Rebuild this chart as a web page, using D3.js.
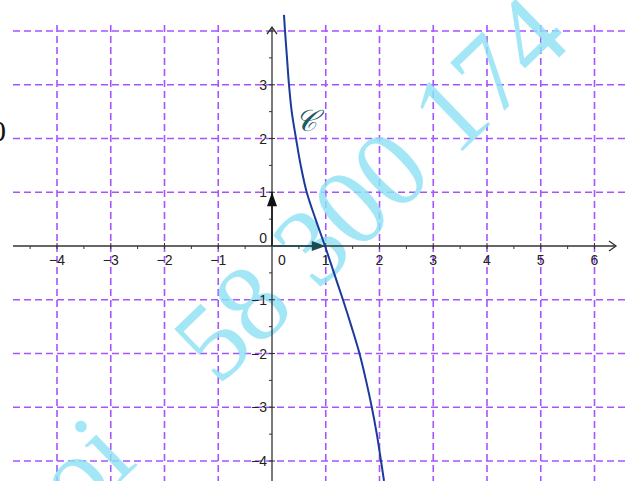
<!DOCTYPE html>
<html><head><meta charset="utf-8">
<script src="https://cdn.jsdelivr.net/npm/d3@7"></script>
<style>body{margin:0;background:#fff}svg{display:block}</style>
</head><body>
<script>
// ---- data ----
const xTicks = [-4, -3, -2, -1, 1, 2, 3, 4, 5, 6];
const yTicks = [4, 3, 2, 1, -1, -2, -3, -4];
const xLabels = ["\u22124", "\u22123", "\u22122", "\u22121", "1", "2", "3", "4", "5", "6"];
const yLabels = ["3", "2", "1", "\u22121", "\u22122", "\u22123", "\u22124"];
const yLabelVals = [3, 2, 1, -1, -2, -3, -4];
const curveX = [0.223, 0.242, 0.279, 0.316, 0.367, 0.447, 0.534, 0.646, 0.81, 0.986, 1.153, 1.32, 1.479, 1.628, 1.749, 1.857, 1.950, 2.028, 2.084];
const curveY = [4.30, 4.0, 3.5, 3.0, 2.5, 2.0, 1.5, 1.0, 0.5, 0.0, -0.5, -1.0, -1.5, -2.0, -2.5, -3.0, -3.5, -4.0, -4.37];
const watermarkA = "G\u1ecdi";
const watermarkB = "58 300 174";

const W = 625, H = 481;
const svg = d3.select("body").append("svg").attr("width", W).attr("height", H);
const U = 53.75;
const x = d3.scaleLinear().domain([0, 1]).range([272, 272 + U]);
const y = d3.scaleLinear().domain([0, 1]).range([246, 246 - U]);

const gridColor = "#a654ff";
const dash = "7,4";
svg.append("g").selectAll("line").data(yTicks).join("line")
  .attr("x1", 13).attr("x2", W).attr("y1", d => y(d)).attr("y2", d => y(d))
  .attr("stroke", gridColor).attr("stroke-width", 1.6).attr("stroke-dasharray", dash);
svg.append("g").selectAll("line").data(xTicks).join("line")
  .attr("y1", 25).attr("y2", H).attr("x1", d => x(d)).attr("x2", d => x(d))
  .attr("stroke", gridColor).attr("stroke-width", 1.6).attr("stroke-dasharray", dash);

// watermark
const wm = svg.append("g").attr("transform", "translate(218,387) rotate(-44)")
  .attr("font-family", "Liberation Serif").attr("font-size", 110)
  .attr("fill", "#8fe2f4").attr("fill-opacity", 0.82);
wm.append("text").attr("x", 0).attr("y", 0).attr("text-anchor", "start").text(watermarkB);
wm.append("text").attr("x", -110).attr("y", 0).attr("text-anchor", "end").text(watermarkA);

// axes
const axisColor = "#333";
svg.append("line").attr("x1", 13).attr("x2", 616).attr("y1", y(0)).attr("y2", y(0))
  .attr("stroke", axisColor).attr("stroke-width", 1.3);
svg.append("path").attr("d", `M${609},${y(0)-5}L${616},${y(0)}L${609},${y(0)+5}`)
  .attr("fill", "none").attr("stroke", axisColor).attr("stroke-width", 1.3);
svg.append("line").attr("x1", x(0)).attr("x2", x(0)).attr("y1", H).attr("y2", 27)
  .attr("stroke", axisColor).attr("stroke-width", 1.3);
svg.append("path").attr("d", `M${x(0)-5},${34}L${x(0)},${27}L${x(0)+5},${34}`)
  .attr("fill", "none").attr("stroke", axisColor).attr("stroke-width", 1.3);

// ticks (major and half-unit minor)
const xt = d3.range(-4.5, 6.01, 0.5).filter(d => d !== 0);
svg.append("g").selectAll("line").data(xt).join("line")
  .attr("x1", d => x(d)).attr("x2", d => x(d))
  .attr("y1", d => y(0) - (Number.isInteger(d) ? 3 : 0)).attr("y2", d => y(0) + 3)
  .attr("stroke", axisColor).attr("stroke-width", 1);
const yt = d3.range(-4.5, 4.01, 0.5).filter(d => d !== 0);
svg.append("g").selectAll("line").data(yt).join("line")
  .attr("y1", d => y(d)).attr("y2", d => y(d))
  .attr("x1", d => x(0) - 3).attr("x2", d => x(0) + (Number.isInteger(d) ? 3 : 0))
  .attr("stroke", axisColor).attr("stroke-width", 1);

// tick labels
const lf = "Liberation Sans";
svg.append("g").selectAll("text").data(xTicks).join("text")
  .attr("x", d => x(d)).attr("y", y(0) + 19)
  .attr("text-anchor", "middle").attr("font-family", lf).attr("font-size", 14).attr("fill", "#222")
  .text((d, i) => xLabels[i]);
svg.append("text").attr("x", x(0) + 10).attr("y", y(0) + 19).attr("text-anchor", "middle")
  .attr("font-family", lf).attr("font-size", 14).attr("fill", "#222").text("0");
svg.append("g").selectAll("text").data(yLabelVals).join("text")
  .attr("x", x(0) - 5).attr("y", d => y(d) + 5)
  .attr("text-anchor", "end").attr("font-family", lf).attr("font-size", 14).attr("fill", "#222")
  .text((d, i) => yLabels[i]);
svg.append("text").attr("x", x(0) - 5).attr("y", y(0) - 3).attr("text-anchor", "end")
  .attr("font-family", lf).attr("font-size", 14).attr("fill", "#222").text("0");

// curve
const pts = curveX.map((d, i) => [d, curveY[i]]);
svg.append("path").datum(pts)
  .attr("d", d3.line().x(d => x(d[0])).y(d => y(d[1])).curve(d3.curveCatmullRom.alpha(0.5)))
  .attr("fill", "none").attr("stroke", "#1a3a9c").attr("stroke-width", 2);

// unit vectors
function arrow(x1, y1, x2, y2, color) {
  svg.append("line").attr("x1", x1).attr("y1", y1).attr("x2", x2).attr("y2", y2)
    .attr("stroke", color).attr("stroke-width", 1.5);
  const a = Math.atan2(y2 - y1, x2 - x1), L = 14, w = 5;
  const bx = x2 - L * Math.cos(a), by = y2 - L * Math.sin(a);
  const px = -Math.sin(a) * w, py = Math.cos(a) * w;
  svg.append("path").attr("d", `M${x2},${y2}L${bx + px},${by + py}L${bx - px},${by - py}Z`).attr("fill", color);
}
arrow(x(0), y(0), x(0), y(1), "#111");
arrow(x(0), y(0), x(1), y(0), "#1e4a52");

// curve label
svg.append("text").attr("x", 306).attr("y", 131).attr("text-anchor", "middle")
  .attr("font-family", "DejaVu Serif").attr("font-style", "italic").attr("font-size", 30)
  .attr("fill", "#1d5a63").text("\ud835\udc9e");

// cut-off text at the left edge
svg.append("text").attr("x", -9).attr("y", 141)
  .attr("font-family", "Liberation Serif").attr("font-size", 30).attr("fill", "#111").text("0");
</script>
</body></html>
